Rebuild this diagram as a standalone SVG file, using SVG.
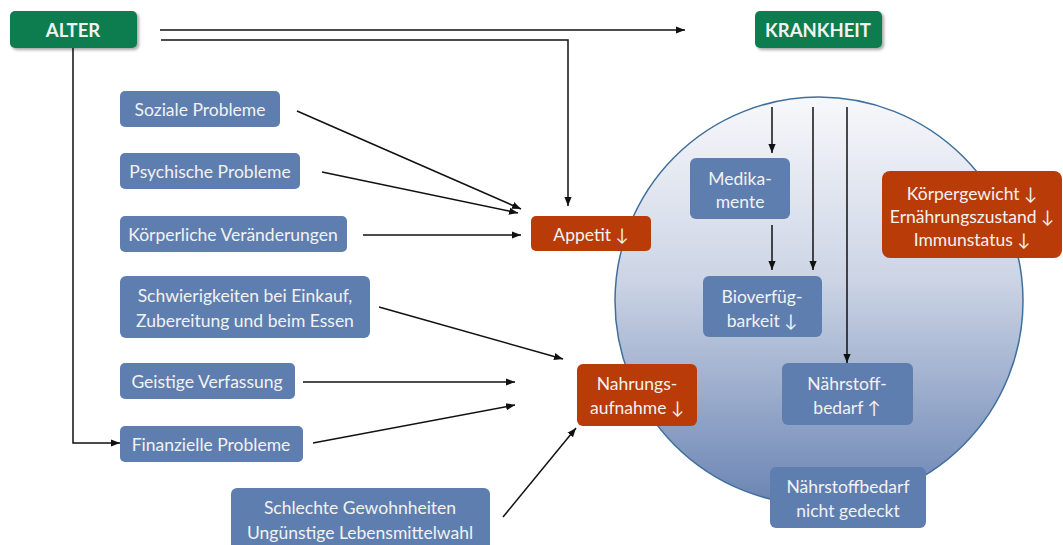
<svg xmlns="http://www.w3.org/2000/svg" width="1063" height="545" viewBox="0 0 1063 545">
<defs>
<linearGradient id="cg" x1="0" y1="0" x2="0" y2="1">
<stop offset="0" stop-color="#f7f8fb"/>
<stop offset="0.45" stop-color="#ccd4e5"/>
<stop offset="1" stop-color="#6a84b3"/>
</linearGradient>
<filter id="sh" x="-20%" y="-20%" width="150%" height="160%">
<feDropShadow dx="2" dy="2" stdDeviation="1.5" flood-color="#000" flood-opacity="0.35"/>
</filter>
<marker id="ah" viewBox="0 0 10 10" refX="10" refY="5" markerWidth="9" markerHeight="9" markerUnits="userSpaceOnUse" orient="auto">
<path d="M0,1 L10,5 L0,9 Z" fill="#111"/>
</marker>
</defs>
<style>
.g{fill:#0a7d4f}
.b{fill:#5f7eb0}
.o{fill:#b83b08}
text{font-family:Lato,"Open Sans","Liberation Sans",sans-serif;font-size:17.5px;fill:#f2f2f2;text-anchor:middle;dominant-baseline:central}
.bt{font-weight:bold;font-size:18.5px}
.c line,.c polyline{stroke:#111;stroke-width:1.5;fill:none}
.a{marker-end:url(#ah)}
</style>
<rect width="1063" height="545" fill="#fff"/>
<circle cx="819" cy="301" r="204" fill="url(#cg)" stroke="#3f6f9b" stroke-width="1.5"/>
<g class="c">
<line class="a" x1="160" y1="30" x2="685" y2="30"/>
<polyline class="a" points="161,40 568,40 568,206"/>
<polyline class="a" points="73,48 73,443 120,443"/>
<line class="a" x1="297" y1="111" x2="521" y2="209"/>
<line class="a" x1="322" y1="172" x2="518" y2="213"/>
<line class="a" x1="363" y1="235" x2="521" y2="235"/>
<line class="a" x1="379" y1="307" x2="563" y2="359"/>
<line class="a" x1="303" y1="382" x2="515" y2="382"/>
<line class="a" x1="313" y1="443" x2="515" y2="405"/>
<line class="a" x1="503" y1="517" x2="576" y2="428"/>
<line class="a" x1="772" y1="107" x2="772" y2="153"/>
<line class="a" x1="772" y1="225" x2="772" y2="270"/>
<line class="a" x1="813" y1="107" x2="813" y2="270"/>
<line class="a" x1="847" y1="107" x2="847" y2="363"/>
</g>
<g id="alter"><rect class="g" x="10" y="11" width="127" height="37" rx="5" filter="url(#sh)"/><text class="bt" x="73" y="30">ALTER</text></g>
<g id="krankheit"><rect class="g" x="755" y="11" width="127" height="37" rx="5" filter="url(#sh)"/><text class="bt" x="818" y="30">KRANKHEIT</text></g>
<g id="soziale"><rect class="b" x="120" y="91" width="160" height="36" rx="5"/><text x="200" y="109">Soziale Probleme</text></g>
<g id="psychische"><rect class="b" x="120" y="153" width="180" height="36" rx="5"/><text x="210" y="171">Psychische Probleme</text></g>
<g id="koerperliche"><rect class="b" x="120" y="216" width="227" height="36" rx="5"/><text x="233" y="234">Körperliche Veränderungen</text></g>
<g id="appetit"><rect class="o" x="531" y="216" width="120" height="35" rx="5"/><text x="591" y="234">Appetit ↓</text></g>
<g id="schwierigkeiten"><rect class="b" x="120" y="276" width="250" height="62" rx="6"/><text x="245" y="295">Schwierigkeiten bei Einkauf,</text><text x="245" y="320">Zubereitung und beim Essen</text></g>
<g id="geistige"><rect class="b" x="120" y="363" width="175" height="36" rx="5"/><text x="207" y="381">Geistige Verfassung</text></g>
<g id="finanzielle"><rect class="b" x="120" y="426" width="183" height="36" rx="5"/><text x="211" y="444">Finanzielle Probleme</text></g>
<g id="schlechte"><rect class="b" x="231" y="488" width="259" height="62" rx="6"/><text x="360" y="507">Schlechte Gewohnheiten</text><text x="360" y="532">Ungünstige Lebensmittelwahl</text></g>
<g id="nahrungsaufnahme"><rect class="o" x="577" y="364" width="120" height="62" rx="6"/><text x="637" y="383">Nahrungs-</text><text x="637" y="407">aufnahme ↓</text></g>
<g id="medikamente"><rect class="b" x="690" y="158" width="100" height="61" rx="6"/><text x="740" y="178">Medika-</text><text x="740" y="201">mente</text></g>
<g id="bioverfuegbarkeit"><rect class="b" x="703" y="276" width="119" height="61" rx="6"/><text x="762" y="296">Bioverfüg-</text><text x="762" y="320">barkeit ↓</text></g>
<g id="naehrstoffbedarf"><rect class="b" x="782" y="363" width="131" height="62" rx="6"/><text x="847" y="383">Nährstoff-</text><text x="847" y="407">bedarf ↑</text></g>
<g id="nichtgedeckt"><rect class="b" x="770" y="467" width="156" height="61" rx="6"/><text x="848" y="486">Nährstoffbedarf</text><text x="848" y="510">nicht gedeckt</text></g>
<g id="koerpergewicht"><rect class="o" x="882" y="171" width="180" height="87" rx="8"/><text x="972" y="193">Körpergewicht ↓</text><text x="972" y="216">Ernährungszustand ↓</text><text x="972" y="239">Immunstatus ↓</text></g>
</svg>
